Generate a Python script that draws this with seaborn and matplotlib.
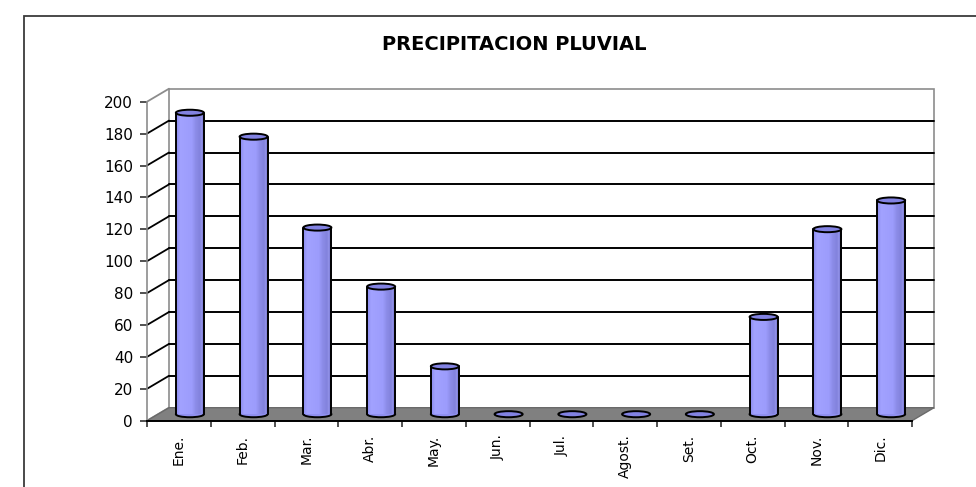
import numpy as np
import matplotlib
matplotlib.use("Agg")
import matplotlib.pyplot as plt
from matplotlib.patches import Rectangle, Polygon, Ellipse
from matplotlib.colors import LinearSegmentedColormap
import seaborn as sns

# ---- data ----
months = ["Ene.", "Feb.", "Mar.", "Abr.", "May.", "Jun.", "Jul.",
          "Agost.", "Set.", "Oct.", "Nov.", "Dic."]
precip = [189, 174, 117, 80, 30, 0, 0, 0, 0, 61, 116, 134]
y_ticks = [0, 20, 40, 60, 80, 100, 120, 140, 160, 180, 200]
title = "PRECIPITACION PLUVIAL"

sns.set_style("white")
plt.rcParams["font.family"] = ["DejaVu Sans"]

W, H = 976, 487
fig = plt.figure(figsize=(W / 100, H / 100), dpi=100)

# front face of the pseudo-3D plot area in pixels
fx0, fx1 = 147, 912
fy_top, fy_bot = 101.7, 420.7
ax = fig.add_axes([fx0 / W, (H - fy_bot) / H, (fx1 - fx0) / W, (fy_bot - fy_top) / H])
ax.patch.set_visible(False)

n = len(months)
ymax = y_ticks[-1]
DX = 0.345          # depth in category units
DY = 8.15           # depth in value units
HX, HY = DX / 2, DY / 2
bar_w = 0.44
ell_h = 3.8

# cylinders (bodies) through seaborn
sns.barplot(x=months, y=precip, width=bar_w, color="#9c9cfc",
            linewidth=0, edgecolor="none", zorder=4, ax=ax)
bars = list(ax.patches)

# back wall
ax.add_patch(Rectangle((-0.5 + HX, HY), n, ymax, facecolor="white",
                       edgecolor="#8c8c8c", lw=1.2, clip_on=False, zorder=0))
# back-wall gridlines
for v in y_ticks[1:-1]:
    ax.plot([-0.5 + HX, n - 0.5 + HX], [v + HY, v + HY], color="black",
            lw=1.4, clip_on=False, zorder=1)
# side-wall diagonals
for v in y_ticks:
    col = "#8c8c8c" if v in (0, ymax) else "black"
    ax.plot([-0.5 - HX, -0.5 + HX], [v - HY, v + HY], color=col,
            lw=1.3, clip_on=False, zorder=1.2)
# floor
ax.add_patch(Polygon([(-0.5 - HX, -HY), (n - 0.5 - HX, -HY),
                      (n - 0.5 + HX, HY), (-0.5 + HX, HY)],
                     closed=True, facecolor="#808080", edgecolor="#6a6a6a",
                     lw=1.0, clip_on=False, zorder=1.5))

# cylinder shading and ends
grad_cmap = LinearSegmentedColormap.from_list("cyl", [
    (0.00, "#8a8aee"), (0.15, "#a2a2ff"), (0.55, "#9c9cfc"),
    (0.68, "#8c8ce8"), (0.84, "#8282dc"), (0.88, "#9494ea"),
    (0.92, "#8282da"), (1.00, "#7070c4")])
grad = np.linspace(0, 1, 256).reshape(1, -1)
for p in bars:
    x0, w, h = p.get_x(), p.get_width(), p.get_height()
    cx = x0 + w / 2
    if h > 0:
        ax.add_patch(Ellipse((cx, 0), w, ell_h, facecolor="#9090f0",
                             edgecolor="black", lw=1.4, zorder=3))
        im = ax.imshow(grad, cmap=grad_cmap, aspect="auto",
                       extent=(x0, x0 + w, 0, h), zorder=4.5)
        im.set_clip_path(p)
        ax.plot([x0, x0], [0, h], color="black", lw=1.4, zorder=5)
        ax.plot([x0 + w, x0 + w], [0, h], color="black", lw=1.4, zorder=5)
    ax.add_patch(Ellipse((cx, h), w, ell_h, facecolor="#8282e2",
                         edgecolor="black", lw=1.4, zorder=6))

# axes limits / spines
ax.set_xlim(-0.5 - HX, n - 0.5 - HX)
ax.set_ylim(-HY, ymax - HY)
ax.spines["top"].set_visible(False)
ax.spines["right"].set_visible(False)
ax.spines["left"].set_color("#8c8c8c")
ax.spines["left"].set_linewidth(1.2)
ax.spines["bottom"].set_color("black")
ax.spines["bottom"].set_linewidth(1.4)
ax.spines["bottom"].set_zorder(7)

# y ticks on the front axis
ax.set_yticks([v - HY for v in y_ticks])
ax.set_yticklabels([str(v) for v in y_ticks])
ax.tick_params(axis="y", which="major", left=True, length=5, width=1.2,
               color="#333333", pad=5, labelsize=11, labelcolor="black")

# x ticks: marks at boundaries, labels at centres
ax.set_xticks([i - 0.5 - HX for i in range(n + 1)])
ax.set_xticklabels([""] * (n + 1))
ax.set_xticks([i - HX for i in range(n)], minor=True)
ax.set_xticklabels(months, minor=True, rotation=90, va="top", ha="center")
ax.tick_params(axis="x", which="major", bottom=True, length=4.3, width=1.2,
               color="#333333")
ax.tick_params(axis="x", which="minor", bottom=True, length=0, pad=10,
               labelsize=10, labelcolor="black")
ax.set_xlabel("")
ax.set_ylabel("")

# title
fig.text(514 / W, 1 - 45 / H, title, ha="center", va="center",
         fontsize=14, fontweight="bold", color="black")

# outer chart border (clipped at the right and bottom in the reference)
fig.patches.append(Rectangle((24 / W, -0.2), 2.0, 1.2 - 16 / H,
                             transform=fig.transFigure, fill=False,
                             edgecolor="#3a3a3a", lw=1.3))

fig.savefig("out.png", dpi=100)
